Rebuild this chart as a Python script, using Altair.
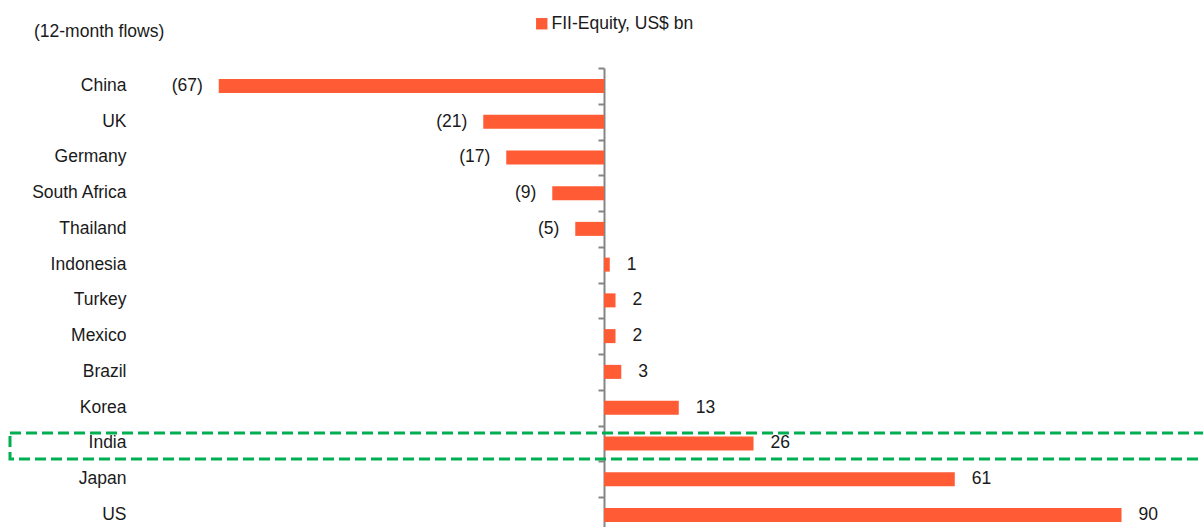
import altair as alt
import pandas as pd

# 12-month foreign institutional equity flows by market, US$ bn
countries = ["China", "UK", "Germany", "South Africa", "Thailand", "Indonesia",
             "Turkey", "Mexico", "Brazil", "Korea", "India", "Japan", "US"]
flows = [-67, -21, -17, -9, -5, 1, 2, 2, 3, 13, 26, 61, 90]
series_name = "FII-Equity, US$ bn"
subtitle = "(12-month flows)"
highlight = "India"

df = pd.DataFrame({"country": countries, "flow": flows, "series": series_name})
df["label"] = [f"({abs(v)})" if v < 0 else str(v) for v in flows]

FONT = "Liberation Sans"
FS = 17.5
TEXT = "#1a1a1a"
BAR = "#FF5B35"
AXIS_GREY = "#858585"
GREEN = "#00B050"

STEP = 35.75
W = 1053
H = STEP * len(countries)
LEFT, TOP = 150, 68

y_scale = alt.Scale(domain=countries, paddingInner=0, paddingOuter=0)
x_scale = alt.Scale(domain=[-78.96, 104.17], nice=False, zero=False)

base = alt.Chart(df)

bars = base.mark_bar(height=14).encode(
    x=alt.X("flow:Q", scale=x_scale, axis=None),
    x2=alt.datum(0),
    y=alt.Y("country:N", scale=y_scale, sort=countries,
            axis=alt.Axis(title=None, ticks=False, domain=False, grid=False,
                          labelPadding=24, labelFont=FONT, labelFontSize=FS,
                          labelColor=TEXT)),
    color=alt.Color("series:N", scale=alt.Scale(range=[BAR]),
                    legend=alt.Legend(title=None, orient="none",
                                      legendX=383, legendY=-53, padding=0,
                                      symbolType="square", symbolSize=130,
                                      symbolStrokeWidth=0, labelOffset=1,
                                      labelFont=FONT, labelFontSize=FS,
                                      labelColor=TEXT)),
)

# zero line with category separators, drawn as a second y axis
zero_axis = alt.Axis(orient="left", offset=-454, labels=False, title=None,
                     grid=False, ticks=True, tickBand="extent", tickSize=6,
                     tickColor=AXIS_GREY, tickWidth=2,
                     domainColor=AXIS_GREY, domainWidth=2)

pos_labels = base.transform_filter("datum.flow >= 0").mark_text(
    align="left", baseline="middle", dx=17, font=FONT, fontSize=FS, color=TEXT
).encode(
    x=alt.X("flow:Q", scale=x_scale, axis=None),
    y=alt.Y("country:N", scale=y_scale, sort=countries, axis=zero_axis),
    text="label:N",
)

neg_labels = base.transform_filter("datum.flow < 0").mark_text(
    align="right", baseline="middle", dx=-16, font=FONT, fontSize=FS, color=TEXT
).encode(
    x=alt.X("flow:Q", scale=x_scale, axis=None),
    y=alt.Y("country:N", scale=y_scale, sort=countries, axis=None),
    text="label:N",
)

box = base.transform_filter(alt.datum.country == highlight).mark_rect(
    height=26, yOffset=2.5, fill=None, stroke=GREEN, strokeWidth=3,
    strokeDash=[11, 5]
).encode(
    x=alt.value(10 - LEFT),
    x2=alt.value(W + 60),
    y=alt.Y("country:N", scale=y_scale, sort=countries, axis=None),
)

note = alt.Chart(pd.DataFrame({"t": [subtitle]})).mark_text(
    align="left", baseline="middle", font=FONT, fontSize=FS, color=TEXT
).encode(
    x=alt.value(34 - LEFT),
    y=alt.value(32 - TOP),
    text="t:N",
)

chart = alt.layer(bars, neg_labels, pos_labels, box, note).resolve_axis(
    y="independent"
).properties(
    width=W, height=H,
    autosize=alt.AutoSizeParams(type="none"),
    padding={"left": LEFT, "top": TOP, "right": 0, "bottom": 0},
    background="white",
).configure_view(stroke=None)

chart.save("out.html", embed_options={"renderer": "svg", "actions": False})
